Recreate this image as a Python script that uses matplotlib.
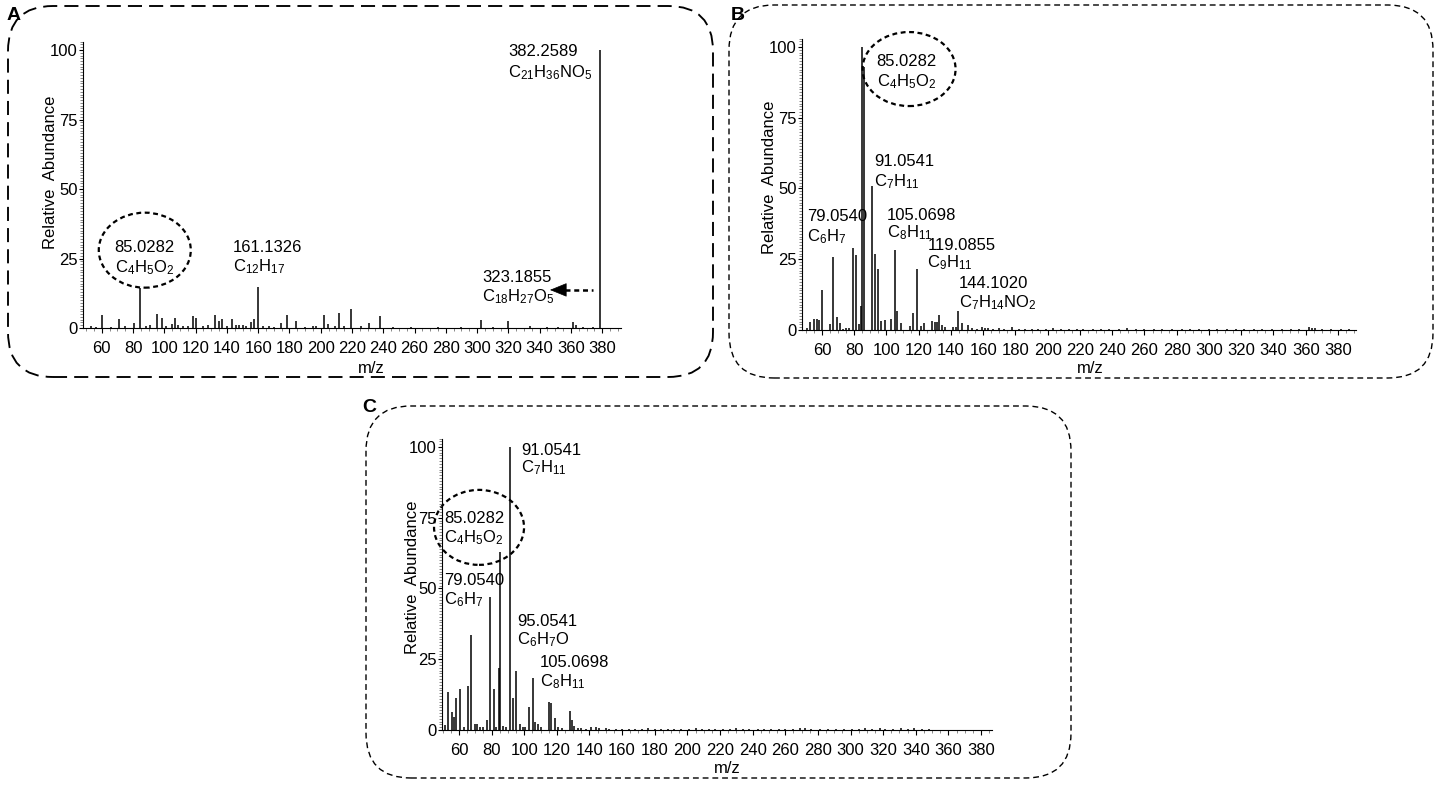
import re
import matplotlib
matplotlib.use('Agg')
import matplotlib.pyplot as plt
from matplotlib.patches import Ellipse, FancyBboxPatch
from matplotlib.transforms import ScaledTranslation
from matplotlib.ticker import MultipleLocator

# ---- spectrum A (precursor 382) ----
a_mz = [53, 56, 60.0, 66, 70.7, 75, 80.6, 84.7, 88, 90.7, 95.0, 98.6, 101, 104.6, 106.8, 109,
        112, 115, 118.2, 120.3, 125, 128, 132.5, 134.7, 136.9, 140, 143.3, 146, 148, 150,
        152, 155.7, 157.3, 159.8, 163, 167, 170, 174.4, 178.3, 184.1, 190, 195, 197, 202.0,
        204.5, 209, 211.6, 215, 219.5, 226, 231, 237.8, 246, 258, 275, 290, 302.6, 310,
        320, 334, 345, 352, 361, 363, 368, 374, 378.6]
a_int = [0.6, 0.5, 4.6, 0.5, 3.1, 0.6, 1.8, 14.5, 0.8, 1.0, 4.9, 3.6, 0.7, 1.5, 3.6, 1.0,
         0.6, 0.8, 4.2, 3.6, 0.6, 1.0, 4.8, 2.4, 3.1, 0.7, 3.1, 1.0, 1.0, 1.0,
         0.8, 2.2, 3.1, 14.8, 0.8, 0.6, 0.5, 1.8, 4.8, 2.5, 0.5, 0.6, 0.8, 4.8,
         1.3, 0.8, 5.4, 0.6, 7.0, 0.6, 1.9, 4.2, 0.4, 0.4, 0.3, 0.4, 3.0, 0.4,
         2.5, 0.7, 0.4, 0.3, 2.0, 1.0, 0.5, 0.4, 100]

# ---- spectrum B ----
b_mz = [51, 52.7, 54.9, 57.0, 58.1, 60.2, 64.8, 67.0, 69.0, 71.2, 73, 75, 77, 79.05, 81.1,
        83.2, 84.3, 85.03, 85.8, 91.05, 92.9, 94.6, 96.6, 98.8, 102.8, 105.07, 106.7, 108.9,
        114.5, 116.6, 119.09, 121.2, 123.0, 128.1, 129.8, 131.3, 132.8, 134.4, 136.2, 141,
        143, 144.1, 147.1, 150.3, 153, 156, 159, 161, 163, 166, 170, 173, 178, 182, 186,
        190, 194, 199, 203, 208, 213, 218, 222, 228, 233, 238, 244, 249, 255, 260, 266,
        271, 277, 283, 288, 294, 300, 305, 311, 317, 322, 328, 333, 339, 345, 351, 356,
        362, 364, 366, 370, 376, 382, 387]
b_int = [0.8, 2.9, 4.0, 3.8, 3.5, 14.1, 2.0, 25.9, 4.6, 2.6, 0.5, 0.6, 0.8, 29.0, 26.4,
         2.0, 8.5, 100, 93, 51, 27, 21.6, 3.2, 3.5, 3.8, 28.1, 6.7, 2.4,
         1.4, 6.1, 21.4, 1.5, 2.6, 3.2, 2.8, 2.9, 5.3, 1.8, 1.2, 1.0,
         1.0, 6.6, 2.4, 1.8, 0.6, 0.5, 0.9, 0.8, 0.7, 0.5, 0.6, 0.5, 1.1, 0.4, 0.5,
         0.4, 0.5, 0.4, 0.6, 0.4, 0.5, 0.4, 0.5, 0.4, 0.5, 0.4, 0.5, 0.6, 0.4, 0.5, 0.4,
         0.5, 0.4, 0.5, 0.4, 0.5, 0.4, 0.5, 0.4, 0.4, 0.5, 0.4, 0.5, 0.4, 0.4, 0.5, 0.4,
         0.9, 0.8, 0.6, 0.4, 0.4, 0.5, 0.3]

# ---- spectrum C ----
c_mz = [51.4, 53.5, 55.6, 57.0, 58.3, 60.4, 62.9, 65.3, 67.4, 69.7, 71.1, 73, 74.5, 77.4,
        79.05, 81.2, 82.6, 84.3, 85.03, 87, 89, 91.05, 92.9, 95.05, 97.2, 99, 100.5, 103.0,
        105.07, 106.6, 108.7, 110, 114.9, 116.6, 119.1, 121, 123, 127.9, 129.1, 130.5, 133,
        135, 138, 141, 144, 146, 150, 152, 156, 160, 164, 168, 172, 176, 180, 184, 188,
        192, 196, 201, 205, 209, 213, 217, 222, 226, 230, 234, 238, 243, 247, 251, 256,
        260, 265, 269, 272, 276, 281, 286, 291, 296, 301, 305, 309, 313, 318, 321, 326,
        331, 335, 339, 344, 348]
c_int = [1.8, 13.3, 6.5, 4.7, 11.4, 14.4, 1.0, 15.5, 33.5, 2.0, 2.0, 1.0, 1.2, 3.5,
         47, 14.4, 1.0, 22, 63, 1.5, 1.0, 100, 11.2, 21, 2.0, 1.2, 1.0, 8.0,
         18.5, 3.0, 2.0, 1.0, 10, 9.4, 4.1, 1.0, 0.8, 6.8, 3.5, 1.5, 0.8,
         0.6, 0.5, 1.2, 1.0, 0.6, 0.8, 0.5, 0.5, 0.4, 0.5, 0.4, 0.5, 0.6, 0.4, 0.5, 0.4,
         0.5, 0.4, 0.5, 0.7, 0.4, 0.5, 0.4, 0.5, 0.5, 0.6, 0.5, 0.4, 0.5, 0.4, 0.4, 0.5,
         0.4, 0.4, 0.6, 0.6, 0.5, 0.4, 0.4, 0.5, 0.4, 0.4, 0.5, 0.7, 0.4, 0.6, 0.5, 0.4,
         0.6, 0.5, 0.6, 0.4, 0.4]

x_ticks = list(range(60, 381, 20))
y_ticks = [0, 25, 50, 75, 100]

plt.rcParams['font.family'] = ['Liberation Sans', 'DejaVu Sans']
plt.rcParams['mathtext.default'] = 'regular'

W, H = 1438, 785
fig = plt.figure(figsize=(W / 100, H / 100), dpi=100)


def px_axes(left, top, right, bottom):
    return fig.add_axes([left / W, 1 - bottom / H, (right - left) / W, (bottom - top) / H])


def sub(f):
    return re.sub(r'(\d+)', r'$_{\1}$', f)


def setup(ax, xlim, xlab, ylab):
    ax.set_xlim(*xlim)
    ax.set_ylim(0, 103)
    for s in ['top', 'right']:
        ax.spines[s].set_visible(False)
    for s in ['left', 'bottom']:
        ax.spines[s].set_linewidth(0.8)
    ax.set_xticks(x_ticks)
    ax.set_yticks(y_ticks)
    ax.xaxis.set_minor_locator(MultipleLocator(5))
    ax.yaxis.set_minor_locator(MultipleLocator(1))
    ax.tick_params(axis='x', labelsize=12, length=3.5, width=0.8, pad=6)
    ax.tick_params(axis='y', labelsize=12, length=3, width=0.8, pad=1)
    ax.tick_params(which='minor', length=2, width=0.5, colors='0.35')
    ax.set_xlabel('m/z', fontsize=12)
    ax.set_ylabel('Relative  Abundance', fontsize=12)
    ax.xaxis.set_label_coords(*xlab)
    ax.yaxis.set_label_coords(*ylab)


def ellipse(ax, x, y, w_px=92, h_px=75):
    tr = fig.dpi_scale_trans + ScaledTranslation(x, y, ax.transData)
    e = Ellipse((0, 0), w_px / 100, h_px / 100, transform=tr, fill=False,
                lw=1.6, ls=(0, (2.2, 1.6)), color='k', clip_on=False)
    ax.add_patch(e)


def label(ax, x, y1, y2, mass, formula, ha='left'):
    ax.text(x, y1, mass, ha=ha, va='center', fontsize=12)
    ax.text(x, y2, sub(formula), ha=ha, va='center', fontsize=12)


# ---- rounded dashed frames ----
frames = [((0.08, 4.08, 7.05, 3.71), (0, (7.5, 3.8)), 1.35),
          ((7.29, 4.07, 7.04, 3.73), (0, (4.2, 2.8)), 1.0),
          ((3.66, 0.07, 7.05, 3.72), (0, (4.2, 2.8)), 1.0)]
for (x0, y0, w, h), ls, lw in frames:
    p = FancyBboxPatch((x0, y0), w, h, boxstyle='round,pad=0,rounding_size=0.45',
                       transform=fig.dpi_scale_trans, fill=False, ec='k', lw=lw, ls=ls)
    fig.add_artist(p)

fig.text(14 / W, 1 - 15 / H, 'A', fontsize=14, weight='bold', ha='center', va='center')
fig.text(738 / W, 1 - 15 / H, 'B', fontsize=14, weight='bold', ha='center', va='center')
fig.text(369 / W, 1 - 408 / H, 'C', fontsize=14, weight='bold', ha='center', va='center')

# ---- panel A ----
axA = px_axes(83, 41.7, 621, 328)
axA.vlines(a_mz, 0, a_int, color='k', lw=1.1)
setup(axA, (48, 392), (0.535, -0.115), (-0.0465, 0.545))
label(axA, 319.8, 99.3, 92.0, '382.2589', 'C21H36NO5')
label(axA, 87.5, 28.8, 21.6, '85.0282', 'C4H5O2', ha='center')
label(axA, 143.8, 28.8, 21.9, '161.1326', 'C12H17')
label(axA, 303.2, 18.0, 11.2, '323.1855', 'C18H27O5')
ellipse(axA, 87.5, 28)
# dashed arrow pointing to the 323 label
axA.plot([356.0, 374.1], [13.7, 13.7], ls=(0, (2, 1.5)), lw=1.8, color='k',
         solid_capstyle='butt', dash_capstyle='butt')
axA.annotate('', xy=(346.6, 13.7), xytext=(356.5, 13.7),
             arrowprops=dict(arrowstyle='-|>,head_length=1.1,head_width=0.45', mutation_scale=10,
                             lw=0.5, color='k', shrinkA=0, shrinkB=0))

# ---- panel B ----
axB = px_axes(802, 38.5, 1356, 330)
axB.vlines(b_mz, 0, b_int, color='k', lw=1.1)
setup(axB, (47.6, 391.2), (0.52, -0.106), (-0.045, 0.525))
label(axB, 112.5, 95.0, 87.6, '85.0282', 'C4H5O2', ha='center')
ellipse(axB, 114, 92.2, 93, 74)
label(axB, 92.2, 59.4, 52.3, '91.0541', 'C7H11')
label(axB, 51.0, 40.0, 32.9, '79.0540', 'C6H7')
label(axB, 100.2, 40.6, 34.3, '105.0698', 'C8H11')
label(axB, 125.4, 30.0, 23.7, '119.0855', 'C9H11')
label(axB, 144.8, 16.6, 9.5, '144.1020', 'C7H14NO2')

# ---- panel C ----
axC = px_axes(442, 438.5, 992, 730)
axC.vlines(c_mz, 0, c_int, color='k', lw=1.1)
setup(axC, (49.6, 386.7), (0.518, -0.106), (-0.04, 0.525))
label(axC, 98.3, 98.9, 92.6, '91.0541', 'C7H11')
label(axC, 69.2, 74.9, 67.8, '85.0282', 'C4H5O2', ha='center')
ellipse(axC, 72.3, 71.6, 90, 75)
label(axC, 50.8, 53.0, 45.9, '79.0540', 'C6H7')
label(axC, 95.6, 38.2, 31.8, '95.0541', 'C6H7O')
label(axC, 109.7, 24.0, 17.0, '105.0698', 'C8H11')

fig.savefig('out.png', dpi=100)
